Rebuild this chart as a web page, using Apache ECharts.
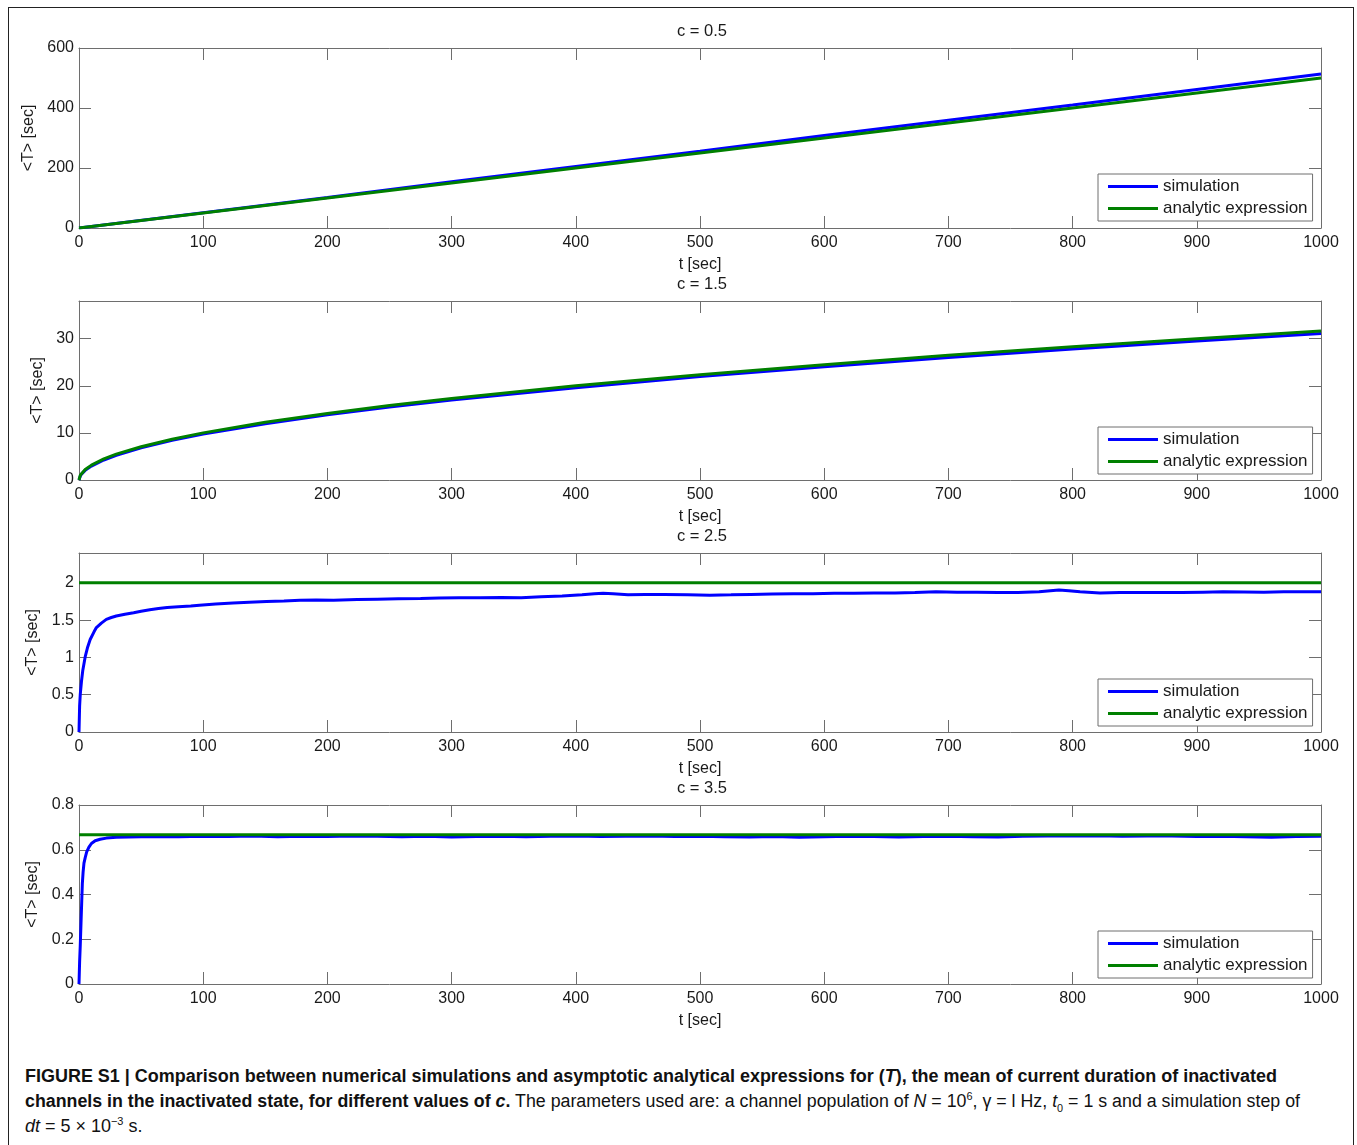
<!DOCTYPE html>
<html>
<head>
<meta charset="utf-8">
<script src="https://cdn.jsdelivr.net/npm/echarts@6/dist/echarts.min.js"></script>
<style>
  html, body { margin:0; padding:0; background:#fff; overflow:hidden; width:1357px; height:1145px; }
  #frame { position:absolute; left:8px; top:7px; width:1346px; height:1200px; border:1px solid #222; box-sizing:border-box; }
  #chart { position:absolute; left:0; top:0; width:1357px; height:1050px; }
  #caption { position:absolute; left:25px; top:1064px; font-family:"Liberation Sans",Arial,sans-serif; font-size:18px; line-height:25px; color:#111; white-space:nowrap; }
  #caption .ln { display:block; transform-origin:0 50%; width:max-content; }
  sup, sub { font-size:11px; line-height:0; }
</style>
</head>
<body>
<div id="frame"></div>
<div id="chart"></div>
<div id="caption"><span class="ln" id="ln1"><b>FIGURE S1 | Comparison between numerical simulations and asymptotic analytical expressions for (<i>T</i>), the mean of current duration of inactivated</b></span><span class="ln" id="ln2"><b>channels in the inactivated state, for different values of <i>c</i>.</b> The parameters used are: a channel population of <i>N</i> = 10<sup>6</sup>, γ = l Hz, <i>t</i><sub>0</sub> = 1 s and a simulation step of</span><span class="ln" id="ln3"><i>dt</i> = 5 × 10<sup>−3</sup> s.</span></div>
<script>
// ---------- data ----------
const panelTitles = ['c = 0.5', 'c = 1.5', 'c = 2.5', 'c = 3.5'];
const seriesNames = ['simulation', 'analytic expression'];
const xTicks = { min: 0, max: 1000, interval: 100 };
const yRanges = [
  { min: 0, max: 600, interval: 200 },
  { min: 0, max: 38, interval: 10 },
  { min: 0, max: 2.4, interval: 0.5 },
  { min: 0, max: 0.8, interval: 0.2 }
];

// panel 1 (c = 0.5)
const p1T   = [0, 100, 200, 300, 400, 500, 600, 700, 800, 900, 1000];
const p1Sim = [0, 51, 102, 154, 205, 256, 308, 359, 410, 462, 513];
const p1Ana = [0, 50, 100, 150, 200, 250, 300, 350, 400, 450, 500];

// panel 2 (c = 1.5)
const p2T   = [0, 1, 2, 5, 10, 20, 30, 50, 75, 100, 150, 200, 250, 300, 400, 500, 600, 700, 800, 900, 1000];
const p2Sim = [0, 0.8, 1.25, 2.05, 2.95, 4.25, 5.25, 6.85, 8.45, 9.75, 11.95, 13.85, 15.5, 17.0, 19.6, 21.95, 24.05, 26.0, 27.8, 29.5, 31.1];
const p2Ana = [0, 1.0, 1.41, 2.24, 3.16, 4.47, 5.48, 7.07, 8.66, 10.0, 12.25, 14.14, 15.81, 17.32, 20.0, 22.36, 24.49, 26.46, 28.28, 30.0, 31.62];

// panel 3 (c = 2.5)
const p3T = [0,0.5,1,2,3,5,7,9,12,14,
  18,22,26,30,37,44,50,57,64,71,
  80,90,97,110,124,137,151,165,178,191,
  205,224,240,257,275,290,306,323,340,356,
  372,389,405,415,422,430,442,456,471,490,
  508,525,541,558,575,591,608,624,640,657,
  673,690,707,723,740,756,773,789,797,806,
  822,838,855,871,888,905,921,938,954,970,
  987,1000];
const p3Sim = [0,0.35,0.5,0.68,0.82,1.01,1.14,1.24,1.34,1.40,
  1.46,1.51,1.535,1.555,1.58,1.60,1.62,1.64,1.655,1.67,
  1.68,1.69,1.70,1.715,1.73,1.74,1.75,1.755,1.765,1.77,
  1.765,1.775,1.78,1.785,1.79,1.795,1.80,1.80,1.805,1.80,
  1.815,1.825,1.84,1.855,1.86,1.855,1.84,1.845,1.845,1.84,
  1.835,1.84,1.845,1.85,1.855,1.855,1.86,1.86,1.865,1.865,
  1.87,1.88,1.875,1.875,1.87,1.87,1.88,1.905,1.895,1.88,
  1.865,1.87,1.87,1.872,1.87,1.875,1.88,1.878,1.875,1.88,
  1.882,1.88];
const p3AnaT = [0, 1000];
const p3Ana  = [2, 2];

// panel 4 (c = 3.5)
const p4T = [0,0.5,1,1.6,2.2,2.7,3.3,4,5,6.2,8,10,13,17,22,30,40,50,
  60,80,100,120,140,160,180,200,220,240,
  260,280,300,320,340,360,380,400,420,440,
  460,480,500,520,540,560,580,600,620,640,
  660,680,700,720,740,760,780,800,820,840,
  860,880,900,920,940,960,980,1000];
const p4Sim = [0,0.1,0.17,0.27,0.37,0.45,0.5,0.54,0.565,0.59,0.612,0.628,0.64,0.647,0.652,0.656,0.657,0.658,
  0.659,0.658,0.660,0.659,0.661,0.658,0.660,0.659,0.661,0.660,
  0.658,0.660,0.657,0.659,0.660,0.658,0.660,0.661,0.659,0.660,
  0.661,0.659,0.660,0.658,0.657,0.659,0.656,0.658,0.660,0.659,
  0.657,0.659,0.660,0.658,0.657,0.660,0.662,0.661,0.663,0.660,
  0.662,0.661,0.659,0.660,0.658,0.656,0.659,0.660];
const p4AnaT = [0, 1000];
const p4Ana  = [0.6667, 0.6667];

// ---------- build ----------
function zip(a, b) { const n = Math.min(a.length, b.length); const r = []; for (let i = 0; i < n; i++) r.push([a[i], b[i]]); return r; }
const panels = [
  { sim: zip(p1T, p1Sim), ana: zip(p1T, p1Ana) },
  { sim: zip(p2T, p2Sim), ana: zip(p2T, p2Ana) },
  { sim: zip(p3T, p3Sim), ana: zip(p3AnaT, p3Ana) },
  { sim: zip(p4T, p4Sim), ana: zip(p4AnaT, p4Ana) }
];

const FONT = '"Liberation Sans", Arial, Helvetica, sans-serif';
const AX = '#6e6e6e';
const TXT = '#1a1a1a';
const gridTops = [48, 301, 553, 805];
const gridHeights = [180, 179, 179, 179];
const plain = v => String(Math.round(v * 1000) / 1000);

const grids = [], xAxes = [], yAxes = [], series = [], legends = [], graphics = [];
panels.forEach((p, i) => {
  grids.push({ left: 79, right: 36, top: gridTops[i], height: gridHeights[i], containLabel: false });
  const base = {
    gridIndex: i, type: 'value',
    axisLine: { show: true, onZero: false, lineStyle: { color: AX, width: 1 } },
    axisTick: { show: true, inside: true, length: 12, lineStyle: { color: AX, width: 1 } },
    splitLine: { show: false }
  };
  xAxes.push(Object.assign({}, base, xTicks, {
    position: 'bottom',
    axisLabel: { color: TXT, fontSize: 16, fontFamily: FONT, margin: 7, formatter: plain },
    name: 't [sec]', nameLocation: 'middle', nameGap: 29,
    nameTextStyle: { color: TXT, fontSize: 16, fontFamily: FONT }
  }));
  xAxes.push(Object.assign({}, base, xTicks, { position: 'top', axisLabel: { show: false } }));
  yAxes.push(Object.assign({}, base, yRanges[i], {
    position: 'left',
    axisLabel: { color: TXT, fontSize: 16, fontFamily: FONT, margin: 5, padding: [5, 0, 0, 0], formatter: plain,
                 showMaxLabel: (i === 1 || i === 2) ? false : true },
    name: '<T> [sec]', nameLocation: 'middle', nameGap: 33,
    nameTextStyle: { color: TXT, fontSize: 16, fontFamily: FONT }
  }));
  yAxes.push(Object.assign({}, base, yRanges[i], { position: 'right', axisLabel: { show: false } }));

  series.push({
    name: seriesNames[0], type: 'line', xAxisIndex: 2 * i, yAxisIndex: 2 * i,
    data: p.sim, showSymbol: false, symbol: 'none', color: '#0000ff',
    lineStyle: { color: '#0000ff', width: 3 }, animation: false
  });
  series.push({
    name: seriesNames[1], type: 'line', xAxisIndex: 2 * i, yAxisIndex: 2 * i,
    data: p.ana, showSymbol: false, symbol: 'none', color: '#008000',
    lineStyle: { color: '#008000', width: 3 }, animation: false
  });

  legends.push({
    data: seriesNames, orient: 'vertical', left: 1098, top: gridTops[i] + 126,
    backgroundColor: '#fff', borderColor: AX, borderWidth: 1,
    padding: [4, 5, 4, 10], itemWidth: 50, itemHeight: 3, itemGap: 5, icon: 'rect',
    selectedMode: false,
    textStyle: { color: TXT, fontSize: 17, fontFamily: FONT, lineHeight: 16 }
  });

  graphics.push({
    type: 'text', x: 702, y: gridTops[i] - 17,
    style: { text: panelTitles[i], fill: TXT, font: '16.5px ' + FONT, align: 'center', verticalAlign: 'middle' }
  });
});

const chart = echarts.init(document.getElementById('chart'), null, { renderer: 'canvas' });
chart.setOption({
  backgroundColor: 'transparent',
  animation: false,
  grid: grids, xAxis: xAxes, yAxis: yAxes, series: series, legend: legends, graphic: graphics
});

// fit caption lines to the widths seen in the figure (condensed typeface)
function fitLine(id, target) {
  const el = document.getElementById(id);
  const w = el.getBoundingClientRect().width;
  const s = target / w;
  el.style.transform = 'scaleX(' + s + ')';
  return s;
}
const s1 = fitLine('ln1', 1252);
fitLine('ln2', 1275);
document.getElementById('ln3').style.transform = 'scaleX(' + s1 + ')';
</script>
</body>
</html>
